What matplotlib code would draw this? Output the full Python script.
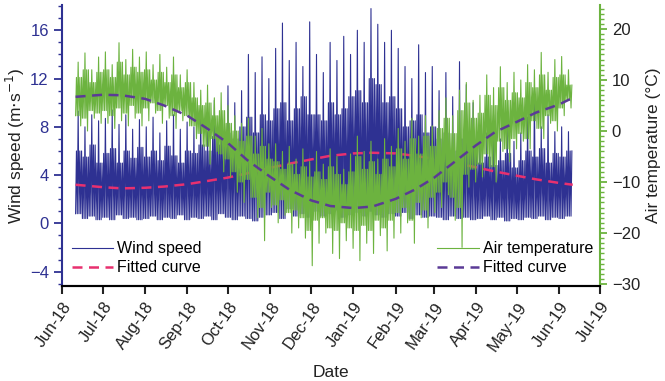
import numpy as np
import pandas as pd
import matplotlib
matplotlib.use('Agg')
import matplotlib.pyplot as plt
import matplotlib.dates as mdates
from matplotlib.ticker import MultipleLocator

plt.rcParams['font.family'] = ['Liberation Sans', 'DejaVu Sans']

# samples every 5 days from 2018-06-11 (73 samples)
# peak = highest spike, band = top / bottom of the dense part
wind_peak = [9.3, 8.0, 9.0, 8.5,
             8.7, 9.4, 8.2, 9.0, 7.8, 8.6,
             8.0, 8.8, 7.5, 8.5, 9.0, 7.8, 8.4,
             8.0, 9.0, 7.6, 10.2, 8.5, 11.4,
             10.0, 11.0, 14.0, 12.5, 13.8, 12.0,
             14.5, 16.6, 13.5, 15.0, 13.0, 16.7,
             14.0, 12.5, 15.0, 13.5, 15.5, 14.0,
             16.0, 15.0, 17.8, 16.5, 15.0, 16.0,
             14.5, 13.0, 12.0, 14.8, 12.5, 13.0,
             11.0, 12.5, 10.5, 13.4, 11.5, 10.0,
             8.0, 7.5, 9.0, 7.0, 8.5, 6.8,
             7.5, 8.8, 11.0, 8.0, 9.0, 7.6,
             8.0, 7.6]
wind_band = [6.0, 5.5, 6.5, 5.0,
             5.8, 6.2, 5.0, 6.0, 5.4, 6.3,
             5.5, 6.0, 5.2, 6.4, 5.6, 5.0, 6.0,
             5.8, 6.5, 6.0, 7.2, 6.5, 7.5,
             7.0, 8.0, 8.8, 7.5, 9.0, 8.5,
             9.5, 10.0, 8.5, 9.5, 10.5, 9.0,
             9.0, 8.5, 10.0, 9.0, 9.5, 10.5,
             11.0, 10.0, 12.0, 11.5, 10.0, 10.5,
             9.5, 8.0, 8.5, 9.0, 7.5, 8.0,
             7.0, 7.5, 6.0, 7.0, 6.5, 6.0,
             5.0, 5.5, 4.8, 5.2, 5.8, 4.6,
             5.2, 6.0, 5.5, 6.2, 5.0, 5.8,
             5.5, 6.0]
wind_low = [0.8, 0.4, 0.6, 0.3,
            0.5, 0.3, 0.7, 0.4, 0.5, 0.3,
            0.4, 0.6, 0.3, 0.5, 0.4, 0.7, 0.3,
            0.5, 0.4, 0.6, 0.3, 0.8, 0.5,
            0.3, 0.6, 0.4, 0.2, 0.5, 0.7,
            0.9, 0.4, 1.2, 0.6, 0.8, 0.5,
            1.0, 0.6, 0.8, 1.1, 0.5, 0.7,
            0.9, 0.6, 1.0, 0.7, 0.5, 0.8,
            0.6, 0.9, 0.4, 0.7, 0.5, 0.6,
            0.5, 0.3, 0.6, 0.4, 0.5, 0.3,
            0.4, 0.6, 0.3, 0.5, 0.2, 0.4,
            0.3, 0.5, 0.4, 0.6, 0.3, 0.5,
            0.4, 0.6]

temp_peak = [13.5, 15.3, 12.0, 14.5,
             15.5, 13.0, 17.3, 14.0, 16.0, 14.5,
             15.5, 13.0, 15.0, 12.5, 14.5, 11.0, 12.0,
             9.5, 8.0, 9.0, 6.5, 7.5, 5.0,
             3.0, 1.5, 2.5, -1.0, 0.5, -2.5,
             -2.5, -4.0, -3.0, -5.5, -3.5, -6.0,
             -4.0, -6.5, -3.5, -5.0, -7.5, -4.5,
             -1.0, -4.0, -2.0, -5.5, -1.5, -3.0,
             0.5, -2.0, 2.5, -1.0, 3.0, 1.0,
             4.0, 6.5, 3.0, 8.0, 9.5, 6.0,
             7.0, 11.0, 8.5, 12.6, 9.5, 11.5,
             10.0, 13.0, 12.0, 15.4, 11.5, 14.0,
             14.6, 12.0]
temp_band_hi = [10.5, 12.0, 9.5, 11.5,
                12.0, 10.5, 13.5, 11.0, 12.5, 11.5,
                12.0, 10.0, 11.5, 9.5, 11.0, 8.5, 9.5,
                6.5, 5.0, 5.5, 3.0, 4.0, 1.5,
                0.0, -2.0, -1.0, -4.5, -3.0, -5.5,
                -6.0, -7.5, -6.5, -8.5, -7.0, -9.0,
                -8.0, -9.5, -7.0, -8.5, -10.5, -8.0,
                -5.0, -7.5, -6.0, -8.5, -5.5, -7.0,
                -3.5, -5.5, -1.5, -4.5, -1.0, -3.0,
                0.5, 2.5, -0.5, 4.0, 5.5, 2.5,
                3.5, 7.0, 5.0, 8.5, 6.0, 7.5,
                6.5, 9.5, 8.5, 11.0, 8.0, 10.5,
                11.0, 9.0]
temp_band_lo = [3.0, 2.5, 4.0, 3.5,
                4.0, 3.0, 4.5, 3.5, 5.0, 3.5,
                4.5, 5.5, 4.0, 5.0, 3.0, 4.0, 3.0,
                1.0, -0.5, -3.0, -1.5, -4.5, -5.5,
                -8.0, -10.0, -9.5, -13.0, -15.0, -12.0,
                -14.5, -13.5, -16.0, -15.5, -17.0, -19.5,
                -17.5, -17.0, -19.0, -19.5, -18.0, -19.0,
                -19.5, -18.5, -19.5, -17.5, -19.0, -17.5,
                -16.0, -15.0, -17.5, -14.0, -15.5, -13.0,
                -12.0, -10.0, -13.0, -15.0, -8.5, -7.5,
                -6.5, -4.5, -7.0, -2.0, -3.5, -1.5,
                -0.5, -1.5, 2.0, 0.5, 3.0, 2.0,
                4.5, 6.0]
temp_low = [1.0, 0.0, 2.5, 1.5,
            1.5, 0.5, 2.0, 1.0, 2.5, 1.0,
            2.0, 3.5, 1.5, 2.5, 0.5, 2.0, 1.0,
            -1.5, -3.0, -6.5, -4.0, -8.0, -9.0,
            -12.0, -14.0, -13.0, -17.0, -21.5, -15.0,
            -18.0, -16.5, -20.0, -19.0, -21.0, -26.4,
            -22.0, -20.0, -24.0, -25.0, -21.5, -23.0,
            -25.4, -22.0, -24.0, -20.5, -23.5, -21.0,
            -20.0, -18.0, -22.0, -17.0, -19.0, -16.0,
            -15.0, -12.5, -17.5, -22.8, -11.0, -10.0,
            -9.0, -7.0, -10.0, -4.0, -6.0, -3.5,
            -2.0, -3.5, 0.5, -1.5, 1.5, 0.0,
            3.0, 4.5]

fit_dates = ['2018-06-11', '2018-07-01', '2018-07-15', '2018-08-01', '2018-08-15',
             '2018-09-01', '2018-09-15', '2018-10-01', '2018-10-15', '2018-11-01',
             '2018-11-15', '2018-12-01', '2018-12-15', '2019-01-01', '2019-01-15',
             '2019-02-01', '2019-02-15', '2019-03-01', '2019-03-15', '2019-04-01',
             '2019-04-15', '2019-05-01', '2019-05-15', '2019-06-01', '2019-06-11']
wind_fit = [3.2, 3.0, 2.9, 2.95, 3.05, 3.25, 3.5, 3.8, 4.15, 4.6, 4.95, 5.3, 5.6,
            5.8, 5.85, 5.8, 5.6, 5.35, 5.05, 4.65, 4.3, 3.95, 3.65, 3.35, 3.2]
temp_fit = [6.7, 7.1, 7.0, 6.3, 5.0, 3.0, 0.6, -2.4, -5.7, -9.0, -11.5, -13.6, -14.7,
            -15.1, -14.8, -13.3, -11.5, -9.2, -6.3, -2.8, -0.2, 1.8, 3.6, 5.2, 6.5]

month_labels = ['Jun-18', 'Jul-18', 'Aug-18', 'Sep-18', 'Oct-18', 'Nov-18', 'Dec-18',
                'Jan-19', 'Feb-19', 'Mar-19', 'Apr-19', 'May-19', 'Jun-19', 'Jul-19']

blue = '#2e3192'
green = '#6cb33f'
pink = '#e8306f'
purple = '#5b3a96'


def dense_trace(peak, band_hi, band_lo, low):
    # each 5-day sample drawn as an oscillation inside the band plus one spike each way
    cols = [band_lo, band_hi, band_lo, peak, band_lo, band_hi, low, band_hi]
    y = np.column_stack(cols).ravel()
    t0 = mdates.date2num(pd.Timestamp('2018-06-11'))
    base = t0 + 5 * np.arange(len(peak))
    offs = np.arange(len(cols)) * 5 / len(cols)
    x = (base[:, None] + offs[None, :]).ravel()
    return x, y


wind_x, wind_y = dense_trace(wind_peak, wind_band, wind_low, wind_low)
temp_x, temp_y = dense_trace(temp_peak, temp_band_hi, temp_band_lo, temp_low)
fit_x = mdates.date2num(pd.to_datetime(fit_dates))

fig = plt.figure(figsize=(6.65, 3.81), dpi=100)
ax = fig.add_axes([0.0932, 0.249, 0.809, 0.738])
ax2 = ax.twinx()

dash = (0, (4, 2.6))
l1, = ax.plot(wind_x, wind_y, color=blue, lw=0.8, label='Wind speed')
l2, = ax.plot(fit_x, wind_fit, color=pink, lw=1.8, ls=dash, label='Fitted curve')
l3, = ax2.plot(temp_x, temp_y, color=green, lw=0.8, label='Air temperature')
l4, = ax2.plot(fit_x, temp_fit, color=purple, lw=1.8, ls=dash, label='Fitted curve')

ax.set_xlim(mdates.date2num(pd.Timestamp('2018-06-01')), mdates.date2num(pd.Timestamp('2019-07-01')))
ax.set_ylim(-5.2, 18.1)
ax2.set_ylim(-30.4, 24.7)

ticks = mdates.date2num(pd.date_range('2018-06-01', '2019-07-01', freq='MS'))
ax.set_xticks(ticks)
ax.set_xticklabels(month_labels, rotation=55, ha='right', rotation_mode='anchor', fontsize=12)

ax.yaxis.set_major_locator(MultipleLocator(4))
ax.yaxis.set_minor_locator(MultipleLocator(1))
ax2.yaxis.set_major_locator(MultipleLocator(10))
ax2.yaxis.set_minor_locator(MultipleLocator(1))

for a in (ax, ax2):
    a.spines['top'].set_visible(False)
    a.spines['bottom'].set_linewidth(1.5)
ax.spines['left'].set_color(blue)
ax.spines['left'].set_linewidth(1.5)
ax2.spines['right'].set_color(green)
ax2.spines['right'].set_linewidth(1.5)
ax2.spines['left'].set_visible(False)
ax.spines['right'].set_visible(False)

ax.tick_params(axis='y', which='major', colors=blue, labelsize=12, length=6, width=1.3)
ax.tick_params(axis='y', which='minor', colors=blue, length=3, width=1.0)
ax.tick_params(axis='x', which='major', length=6, width=1.5, labelsize=12, colors='#222222')
ax2.tick_params(axis='y', which='major', colors=green, labelcolor='#222222', labelsize=12, length=5, width=1.3)
ax2.tick_params(axis='y', which='minor', colors=green, length=3, width=1.0)

ax.set_ylabel('Wind speed (m$\\cdot$s$^{-1}$)', fontsize=12.5, color='#222222', labelpad=2)
ax2.set_ylabel('Air temperature (°C)', fontsize=12.5, color='#222222', labelpad=4)
ax.set_xlabel('Date', fontsize=12.5, color='#222222', labelpad=8)

ax.legend(handles=[l1, l2], loc='lower left', bbox_to_anchor=(0.0, 0.005), frameon=False,
          fontsize=11.5, handlelength=2.6, handletextpad=0.25, labelspacing=0.25,
          borderaxespad=0.2)
ax2.legend(handles=[l3, l4], loc='lower left', bbox_to_anchor=(0.68, 0.005), frameon=False,
           fontsize=11.5, handlelength=2.6, handletextpad=0.25, labelspacing=0.25,
           borderaxespad=0.2)

fig.savefig('out.png', dpi=100)
